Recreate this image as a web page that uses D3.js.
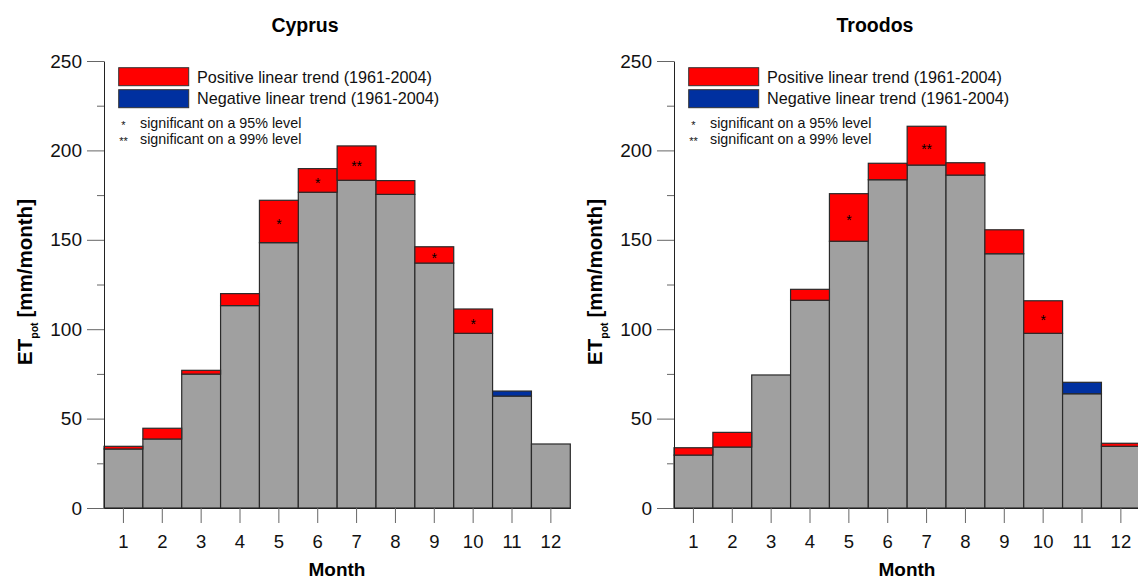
<!DOCTYPE html>
<html>
<head>
<meta charset="utf-8">
<script src="https://cdn.jsdelivr.net/npm/d3@7"></script>
<style>
  html, body { margin: 0; padding: 0; background: #fff; }
  svg { display: block; font-family: "Liberation Sans", Arial, Helvetica, sans-serif; }
</style>
</head>
<body>
<svg id="chart" width="1138" height="580"></svg>
<script>
// Monthly potential evapotranspiration (mm/month), 1961-2004 linear trend
const months = [1, 2, 3, 4, 5, 6, 7, 8, 9, 10, 11, 12];
const yTicks = [0, 50, 100, 150, 200, 250];
const yMinorTicks = [25, 75, 125, 175, 225];

// Cyprus: lower value of each month and upper value reached with the trend
const cyprusLow  = [33.0, 38.6, 74.9, 113.2, 148.4, 176.6, 183.3, 175.4, 137.0, 97.7, 62.6, 35.8];
const cyprusHigh = [34.5, 44.6, 77.0, 119.9, 172.1, 189.8, 202.5, 183.1, 146.1, 111.3, 65.4, 35.8];
const cyprusTrend = ["pos", "pos", "pos", "pos", "pos", "pos", "pos", "pos", "pos", "pos", "neg", "none"];
const cyprusSig = ["", "", "", "", "*", "*", "**", "", "*", "*", "", ""];

// Troodos
const troodosLow  = [29.6, 34.1, 74.4, 116.2, 149.2, 183.6, 191.8, 186.2, 142.2, 97.7, 63.9, 34.5];
const troodosHigh = [33.7, 42.3, 74.4, 122.3, 175.8, 192.8, 213.5, 193.1, 155.6, 115.9, 70.3, 36.2];
const troodosTrend = ["pos", "pos", "none", "pos", "pos", "pos", "pos", "pos", "pos", "pos", "neg", "pos"];
const troodosSig = ["", "", "", "", "*", "", "**", "", "", "*", "", ""];

const legendItems = ["Positive linear trend (1961-2004)", "Negative linear trend (1961-2004)"];
const sigItems = [["*", "significant on a 95% level"], ["**", "significant on a 99% level"]];

const colors = { base: "#a0a0a0", pos: "#ff0000", neg: "#0030a0", stroke: "#2a2a2a", tick: "#666" };

const svg = d3.select("#chart");

function panel(ox, title, low, high, trend, sig) {
  const g = svg.append("g").attr("transform", `translate(${ox},0)`);
  const x = d3.scaleBand().domain(months).range([104, 570.3]).padding(0);
  const y = d3.scaleLinear().domain([0, 250]).range([508, 61]);

  // title
  g.append("text").attr("x", 305).attr("y", 31.5).attr("text-anchor", "middle")
    .attr("font-size", 19.5).attr("font-weight", "bold").text(title);

  // bars: base part in grey, trend part coloured on top
  const rows = months.map((m, i) => ({ m, lo: low[i], hi: high[i], t: trend[i], s: sig[i] }));
  g.selectAll("rect.base").data(rows).join("rect").attr("class", "base")
    .attr("x", d => x(d.m)).attr("width", x.bandwidth())
    .attr("y", d => y(d.lo)).attr("height", d => y(0) - y(d.lo))
    .attr("fill", colors.base).attr("stroke", colors.stroke).attr("stroke-width", 1.2);
  const tr = rows.filter(d => d.t !== "none" && d.hi > d.lo);
  g.selectAll("rect.trend").data(tr).join("rect").attr("class", "trend")
    .attr("x", d => x(d.m)).attr("width", x.bandwidth())
    .attr("y", d => y(d.hi)).attr("height", d => y(d.lo) - y(d.hi))
    .attr("fill", d => colors[d.t]).attr("stroke", colors.stroke).attr("stroke-width", 1.2);
  g.selectAll("text.sig").data(rows.filter(d => d.s)).join("text").attr("class", "sig")
    .attr("x", d => x(d.m) + x.bandwidth() / 2)
    .attr("y", d => (y(d.hi) + y(d.lo)) / 2 + 8)
    .attr("text-anchor", "middle").attr("font-size", 14).text(d => d.s);

  // y axis
  const ya = g.append("g").attr("transform", "translate(104,0)")
    .call(d3.axisLeft(y).tickValues(yTicks).tickSize(17).tickSizeOuter(0).tickPadding(5));
  ya.selectAll("text").attr("font-size", 19).attr("fill", "#111").attr("font-family", null);
  ya.selectAll(".tick line").attr("stroke", colors.tick);
  ya.select(".domain").attr("stroke", "#222");
  const ym = g.append("g").attr("transform", "translate(104,0)")
    .call(d3.axisLeft(y).tickValues(yMinorTicks).tickSize(7).tickFormat(""));
  ym.select(".domain").remove();
  ym.selectAll(".tick line").attr("stroke", colors.tick);

  // x axis
  const xa = g.append("g").attr("transform", `translate(0,${y(0)})`)
    .call(d3.axisBottom(x).tickSize(15).tickSizeOuter(0).tickPadding(12));
  xa.selectAll("text").attr("font-size", 18.5).attr("fill", "#111").attr("font-family", null);
  xa.selectAll(".tick line").attr("stroke", colors.tick);
  xa.select(".domain").attr("stroke", "#222");

  // axis titles
  g.append("text").attr("x", 337).attr("y", 575.5).attr("text-anchor", "middle")
    .attr("font-size", 19).attr("font-weight", "bold").text("Month");
  const yt = g.append("text").attr("transform", "translate(32,282) rotate(-90)")
    .attr("text-anchor", "middle").attr("font-size", 20.5).attr("font-weight", "bold");
  yt.append("tspan").text("ET");
  yt.append("tspan").attr("font-size", 10.5).attr("baseline-shift", "sub").text("pot");
  yt.append("tspan").attr("dx", 5).text("[mm/month]");

  // legend
  const lg = g.append("g");
  lg.selectAll("rect").data(legendItems).join("rect")
    .attr("x", 118.7).attr("y", (d, i) => 67.7 + i * 22).attr("width", 70).attr("height", 18)
    .attr("fill", (d, i) => i === 0 ? colors.pos : colors.neg)
    .attr("stroke", "#333").attr("stroke-width", 1);
  lg.selectAll("text.li").data(legendItems).join("text").attr("class", "li")
    .attr("x", 197).attr("y", (d, i) => 77.7 + i * 21).attr("dy", "0.35em")
    .attr("font-size", 16.2).attr("fill", "#111").text(d => d);
  lg.selectAll("text.ss").data(sigItems).join("text").attr("class", "ss")
    .attr("x", 123.5).attr("y", (d, i) => 129 + i * 16).attr("text-anchor", "middle")
    .attr("font-size", 11).attr("fill", "#111").text(d => d[0]);
  lg.selectAll("text.st").data(sigItems).join("text").attr("class", "st")
    .attr("x", 140).attr("y", (d, i) => 123.3 + i * 16).attr("dy", "0.35em")
    .attr("font-size", 14.3).attr("fill", "#111").text(d => d[1]);
}

panel(0, "Cyprus", cyprusLow, cyprusHigh, cyprusTrend, cyprusSig);
panel(570, "Troodos", troodosLow, troodosHigh, troodosTrend, troodosSig);
</script>
</body>
</html>
